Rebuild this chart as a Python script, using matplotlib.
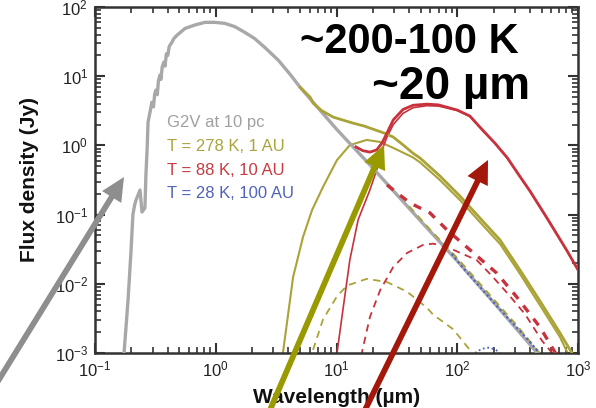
import matplotlib
matplotlib.use("Agg")
import matplotlib.pyplot as plt
from matplotlib.ticker import LogLocator, NullFormatter

plt.rcParams["font.family"] = ["Liberation Sans", "DejaVu Sans"]
plt.rcParams["mathtext.fontset"] = "custom"
plt.rcParams["mathtext.rm"] = "Liberation Sans"
plt.rcParams["mathtext.it"] = "Liberation Sans:italic"
plt.rcParams["mathtext.bf"] = "Liberation Sans:bold"

# ---- G2V photosphere at 10 pc ----
star_wl = [0.174, 0.188, 0.199, 0.206, 0.213, 0.218, 0.236, 0.245, 0.259, 0.264,
           0.270, 0.275, 0.296, 0.305, 0.312, 0.320, 0.328, 0.335, 0.345, 0.352,
           0.360, 0.372, 0.380, 0.390, 0.401, 0.412, 0.434, 0.450, 0.477, 0.557,
           0.673, 0.815, 0.98, 1.19, 1.44, 1.74, 2.10, 2.55, 3.3, 4.1, 5.0, 10,
           20, 50, 100, 200, 460, 1000]
star_flux = [1e-3, 0.006, 0.031, 0.10, 0.138, 0.16, 0.226, 0.109, 0.125, 0.37,
             0.86, 2.17, 4.2, 3.6, 5.5, 6.3, 5.4, 8.5, 10.4, 9.0,
             13.5, 16, 14, 21, 20, 27, 31, 35, 39, 49,
             55, 60, 60, 58, 52, 43, 35, 26, 17, 10.8, 6.9, 1.72,
             0.47, 0.080, 0.0214, 0.0054, 1e-3, 2.2e-4]

# ---- 278 K dust at 1 AU ----
warm_total_wl = [5.0, 6.04, 6.39, 7.5, 9.4, 11.5, 13.7, 17, 20, 25, 29.5, 36, 43,
                 49.1, 71.9, 105, 154, 226, 331, 484, 709, 891, 1000]
warm_total_flux = [6.9, 4.99, 4.1, 3.2, 2.56, 2.3, 2.1, 1.9, 1.72, 1.5, 1.32, 1.0, 0.77,
                   0.658, 0.361, 0.186, 0.0893, 0.043, 0.0158, 0.00564, 0.00195, 1e-3, 7e-4]
warm_dust_wl = [3.6, 4.37, 5.28, 6.27, 7.73, 10.1, 12.9, 17.8, 23.0, 29.5, 43,
                49.1, 71.9, 105, 154, 226, 331, 484, 709, 820, 1000]
warm_dust_flux = [1e-3, 0.0125, 0.0474, 0.116, 0.251, 0.615, 1.01, 1.2, 1.12, 0.92, 0.67,
                  0.57, 0.315, 0.163, 0.078, 0.0377, 0.0139, 0.0049, 0.0017, 1e-3, 6e-4]
warm_small_wl = [5.5, 6.27, 7.73, 10.1, 12.2, 17.8, 26.2, 38.4, 56.1, 63, 92.6, 127.5, 140]
warm_small_flux = [5e-4, 1e-3, 0.00306, 0.0066, 0.0094, 0.0118, 0.0106, 0.0077, 0.0045,
                   0.0036, 0.0022, 1.1e-3, 8e-4]
warm_small_total_wl = [40, 60, 100, 150, 200, 300, 450, 520]
warm_small_total_flux = [0.132, 0.060, 0.0236, 0.0106, 0.0060, 0.0027, 1.15e-3, 8.5e-4]

# ---- 88 K dust at 10 AU ----
cool_total_wl = [14.5, 16.5, 18.9, 21.5, 23.8, 26.2, 29.5, 35.5, 43, 56, 70, 100, 127,
                 162, 205, 260, 320, 400, 554, 811, 1000]
cool_total_flux = [0.95, 0.84, 0.80, 0.86, 1.08, 1.51, 2.33, 3.3, 3.8, 3.95, 3.85, 3.24,
                   2.66, 1.67, 1.08, 0.66, 0.386, 0.219, 0.089, 0.030, 0.0159]
cool_dust_wl = [9.6, 10.1, 11.3, 12.9, 15.1, 18.9, 21.5, 23.8, 26.2, 29.5, 35.5, 43, 56,
                70, 100, 127, 162, 205, 260, 320, 400, 554, 811, 1000]
cool_dust_flux = [6e-4, 1e-3, 0.0042, 0.0222, 0.084, 0.227, 0.44, 0.86, 1.32, 2.0, 2.9, 3.5,
                  3.75, 3.7, 3.2, 2.63, 1.65, 1.07, 0.655, 0.383, 0.218, 0.088, 0.030, 0.0158]
cool_small_wl = [15.0, 16.2, 18.9, 23.0, 29.5, 38.4, 52.2, 63, 80, 101, 145, 193, 266,
                 366, 504, 610, 680]
cool_small_flux = [6e-4, 1e-3, 0.0033, 0.0081, 0.0175, 0.0279, 0.0365, 0.038, 0.035,
                   0.029, 0.022, 0.0131, 0.0070, 0.0036, 0.0015, 1e-3, 7.5e-4]
cool_small_total_wl = [26.2, 40.7, 59.3, 82.3, 137, 213, 312, 483, 630, 700]
cool_small_total_flux = [0.268, 0.147, 0.106, 0.060, 0.0277, 0.0142, 0.0064, 0.00238,
                         1.1e-3, 8e-4]

# ---- 28 K dust at 100 AU ----
cold_dust_wl = [120, 140, 160, 185, 210, 240, 270]
cold_dust_flux = [7e-4, 1e-3, 1.15e-3, 1.2e-3, 1.1e-3, 9e-4, 7e-4]
cold_total_wl = [90, 110, 150, 186, 240, 300, 380, 475, 520]
cold_total_flux = [0.027, 0.0175, 0.0095, 0.0062, 0.0038, 0.0025, 0.0016, 1.02e-3, 8.5e-4]

legend_labels = ["G2V at 10 pc", "T = 278 K, 1 AU", "T = 88 K, 10 AU", "T = 28 K, 100 AU"]
legend_colors = ["#a0a0a2", "#aaa43c", "#c83a40", "#4f63b8"]

GRAY = "#a8a8ab"
OLIVE = "#aaa338"
RED = "#c8323c"
BLUE = "#4f63c0"

W, H = 596, 408
fig = plt.figure(figsize=(W / 100, H / 100), dpi=100)
ax = fig.add_axes([95 / W, 1 - 353 / H, (578 - 95) / W, (353 - 7) / H])

# dust components
ax.plot(warm_small_wl, warm_small_flux, color=OLIVE, lw=1.3, ls=(0, (4, 3)))
ax.plot(cool_small_wl, cool_small_flux, color=RED, lw=1.3, ls=(0, (4, 3)))
ax.plot(cold_dust_wl, cold_dust_flux, color=BLUE, lw=1.3, ls=(0, (1, 1.5)))
ax.plot(warm_dust_wl, warm_dust_flux, color=OLIVE, lw=1.5)
ax.plot(cool_dust_wl, cool_dust_flux, color=RED, lw=1.2)

# photosphere
ax.plot(star_wl, star_flux, color=GRAY, lw=2.4, zorder=3)

# star + dust totals
ax.plot(warm_small_total_wl, warm_small_total_flux, color=OLIVE, lw=1.3, ls=(0, (4, 3)), zorder=3.5)
ax.plot(cold_total_wl, cold_total_flux, color=BLUE, lw=1.6, ls=(0, (1, 1.2)), zorder=3.5)
ax.plot(cool_small_total_wl, cool_small_total_flux, color=RED, lw=2.4, ls=(0, (2.5, 2.5)), zorder=3.5)
ax.plot(warm_total_wl, warm_total_flux, color=OLIVE, lw=2.0, zorder=3.6)
ax.plot(cool_total_wl, cool_total_flux, color=RED, lw=2.0, zorder=3.6)

ax.set_xscale("log")
ax.set_yscale("log")
ax.set_xlim(0.1, 1000)
ax.set_ylim(1e-3, 100)

for sp in ax.spines.values():
    sp.set_linewidth(1.8)
    sp.set_color("#333333")
ax.xaxis.set_major_locator(LogLocator(base=10, numticks=10))
ax.yaxis.set_major_locator(LogLocator(base=10, numticks=10))
ax.xaxis.set_minor_locator(LogLocator(base=10, subs=range(2, 10), numticks=20))
ax.yaxis.set_minor_locator(LogLocator(base=10, subs=range(2, 10), numticks=20))
ax.xaxis.set_minor_formatter(NullFormatter())
ax.yaxis.set_minor_formatter(NullFormatter())
ax.tick_params(which="both", direction="in", top=True, right=True, colors="#333333")
ax.tick_params(which="major", length=7, width=1.5, labelsize=12, pad=5, labelcolor="#222222")
ax.tick_params(which="minor", length=4, width=1.2)

ax.set_xlabel("Wavelength (µm)", fontsize=15, fontweight="bold", labelpad=6, color="#111111")
ax.set_ylabel("Flux density (Jy)", fontsize=15, fontweight="bold", color="#111111",
              va="center")
ax.yaxis.set_label_coords((30 - 95) / (578 - 95), 0.5)

# coloured legend text
for i, (lab, col) in enumerate(zip(legend_labels, legend_colors)):
    fig.text(167 / W, 1 - (123 + 23.5 * i) / H, lab, color=col, fontsize=12,
             va="center", ha="left")

# headline annotations
fig.text(300 / W, 1 - 53 / H, "~200-100 K", fontsize=30, fontweight="bold",
         va="baseline", ha="left", color="black")
fig.text(372 / W, 1 - 99 / H, "~20 µm", fontsize=33, fontweight="bold",
         va="baseline", ha="left", color="black")

# pointer arrows (figure pixel coordinates)
arrows = [((-5, H - 386), (124, H - 177), "#8e8e8e"),
          ((270, H - 410), (384, H - 145), "#999a00"),
          ((365, H - 410), (488, H - 160), "#a3180a")]
for tail, tip, col in arrows:
    ax.annotate("", xy=tip, xycoords="figure pixels", xytext=tail,
                textcoords="figure pixels", annotation_clip=False,
                arrowprops=dict(arrowstyle="simple,head_length=1.3,head_width=1.25,tail_width=0.32",
                                mutation_scale=13, color=col, lw=0,
                                shrinkA=0, shrinkB=0), zorder=10)

fig.savefig("out.png", dpi=100)
